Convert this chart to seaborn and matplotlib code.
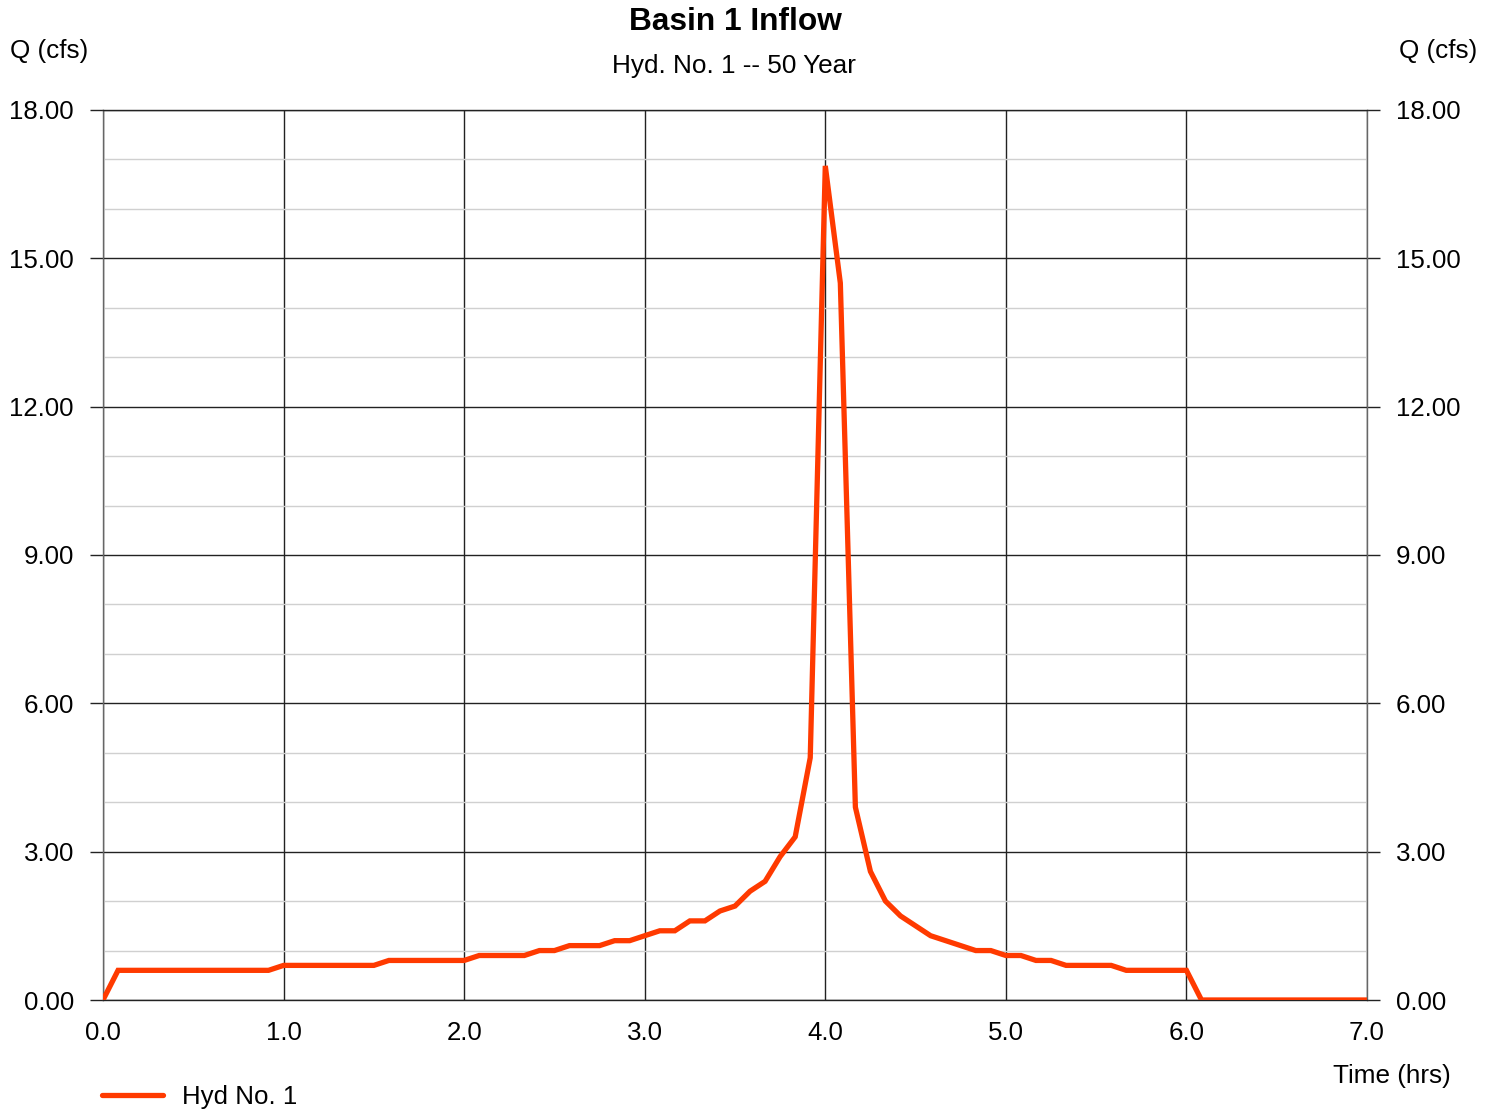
import matplotlib
matplotlib.use("Agg")
import matplotlib.pyplot as plt
import seaborn as sns
import pandas as pd
from matplotlib.ticker import MultipleLocator, FixedLocator

# ---- data (5-minute hydrograph ordinates) ----
time_min = [0, 5, 10, 15, 20, 25, 30, 35, 40, 45, 50, 55,
            60, 65, 70, 75, 80, 85, 90, 95, 100, 105, 110, 115,
            120, 125, 130, 135, 140, 145, 150, 155, 160, 165, 170, 175,
            180, 185, 190, 195, 200, 205, 210, 215, 220, 225, 230, 235,
            240, 245, 250, 255, 260, 265, 270, 275, 280, 285, 290, 295,
            300, 305, 310, 315, 320, 325, 330, 335, 340, 345, 350, 355,
            360, 365, 370, 375, 380, 385, 390, 395, 400, 405, 410, 415, 420]
flow_cfs = [0.0, 0.6, 0.6, 0.6, 0.6, 0.6, 0.6, 0.6, 0.6, 0.6, 0.6, 0.6,
            0.7, 0.7, 0.7, 0.7, 0.7, 0.7, 0.7, 0.8, 0.8, 0.8, 0.8, 0.8,
            0.8, 0.9, 0.9, 0.9, 0.9, 1.0, 1.0, 1.1, 1.1, 1.1, 1.2, 1.2,
            1.3, 1.4, 1.4, 1.6, 1.6, 1.8, 1.9, 2.2, 2.4, 2.9, 3.3, 4.9,
            16.87, 14.5, 3.9, 2.6, 2.0, 1.7, 1.5, 1.3, 1.2, 1.1, 1.0, 1.0,
            0.9, 0.9, 0.8, 0.8, 0.7, 0.7, 0.7, 0.7, 0.6, 0.6, 0.6, 0.6,
            0.6, 0.0, 0.0, 0.0, 0.0, 0.0, 0.0, 0.0, 0.0, 0.0, 0.0, 0.0, 0.0]
series_name = "Hyd No. 1"
x_ticks = [0.0, 1.0, 2.0, 3.0, 4.0, 5.0, 6.0, 7.0]
y_ticks = [0.0, 3.0, 6.0, 9.0, 12.0, 15.0, 18.0]
title = "Basin 1 Inflow"
subtitle = "Hyd. No. 1 -- 50 Year"

df = pd.DataFrame({"Time (hrs)": [m / 60.0 for m in time_min],
                   "Q (cfs)": flow_cfs,
                   "series": series_name})

sns.set_theme(style="white")
plt.rcParams["font.family"] = ["Liberation Sans", "DejaVu Sans"]
plt.rcParams["text.color"] = "black"

W, H = 1497, 1112
fig = plt.figure(figsize=(W / 100, H / 100), dpi=100)
L, R, T, B = 103, 1367, 110, 1000
ax = fig.add_axes([L / W, 1 - B / H, (R - L) / W, (B - T) / H])

line_color = "#ff3a00"
sns.lineplot(data=df, x="Time (hrs)", y="Q (cfs)", hue="series",
             palette=[line_color], linewidth=3.8, ax=ax, legend=True,
             solid_joinstyle="miter", zorder=5)

ax.set_xlim(0, 7)
ax.set_ylim(0, 18)
ax.xaxis.set_major_locator(FixedLocator(x_ticks))
ax.yaxis.set_major_locator(FixedLocator(y_ticks))
ax.yaxis.set_minor_locator(MultipleLocator(1.0))
ax.set_xticklabels([f"{v:.1f}" for v in x_ticks])
ax.set_yticklabels([f"{v:.2f}" for v in y_ticks])

ax.grid(True, which="major", axis="both", color="#222222", linewidth=1.0)
ax.grid(True, which="minor", axis="y", color="#d0d0d0", linewidth=1.0)
ax.set_axisbelow(True)

ax.tick_params(axis="y", which="major", left=True, right=True,
               labelleft=True, labelright=True, length=9.4, width=1.0,
               color="#222222", pad=11.5, labelsize=18.6, labelcolor="black")
ax.tick_params(axis="y", which="minor", left=False, right=False)
ax.tick_params(axis="x", which="major", bottom=False, length=0,
               pad=15, labelsize=18.6, labelcolor="black")
for s in ax.spines.values():
    s.set_color("#666666")
    s.set_linewidth(1.0)
ax.spines["bottom"].set_color("#222222")
ax.spines["top"].set_color("#222222")

ax.set_xlabel("")
ax.set_ylabel("")

# legend
handles, labels = ax.get_legend_handles_labels()
ax.get_legend().remove()
leg = fig.legend(handles, labels, loc="center left",
                 bbox_to_anchor=(102 / W, 1 - 1097 / H), frameon=False,
                 fontsize=18.6, handlelength=2.35, handletextpad=0.75,
                 borderpad=0, borderaxespad=0)
for t in leg.get_texts():
    t.set_color("black")

# text
fig.text(735 / W, 1 - 22 / H, title, ha="center", va="center",
         fontsize=22.8, fontweight="bold", color="black")
fig.text(734 / W, 1 - 66 / H, subtitle, ha="center", va="center",
         fontsize=18.8, color="black")
fig.text(10 / W, 1 - 51 / H, "Q (cfs)", ha="left", va="center",
         fontsize=18.8, color="black")
fig.text(1477 / W, 1 - 51 / H, "Q (cfs)", ha="right", va="center",
         fontsize=18.8, color="black")
fig.text(1451 / W, 1 - 1076 / H, "Time (hrs)", ha="right", va="center",
         fontsize=18.8, color="black")

fig.savefig("out.png", dpi=100)
